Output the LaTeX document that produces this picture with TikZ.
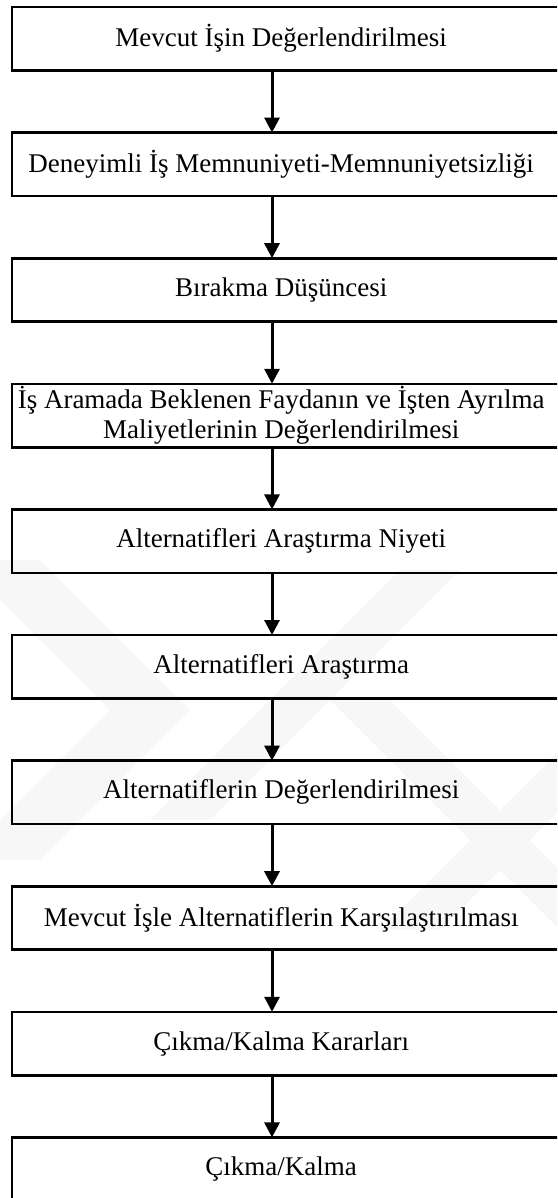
\documentclass[tikz,border=0pt]{standalone}
\usepackage{fontspec}
\setmainfont{Liberation Serif}
\usetikzlibrary{arrows.meta}
\begin{document}
\begin{tikzpicture}[x=1pt,y=-1pt,
  stepbox/.style={minimum width=538pt, minimum height=63pt, inner sep=0pt,
    align=center, anchor=north west, font=\fontsize{27}{30}\selectfont},
  boxline/.style={draw=black, line width=2.6pt},
  flow/.style={line width=3pt, -{Triangle[length=15pt,width=15pt]}},
  mark band/.style={fill=black!3, draw=none}]
\useasboundingbox (0,0) rectangle (557,1198);
\clip (0,0) rectangle (557,1198);

% faint background emblem bands
\fill[mark band] (0,560) -- (40,560) -- (190,710) -- (40,860) -- (0,860) -- (0,820) -- (110,710) -- (0,600) -- cycle;
\fill[mark band] (150,820) -- (400,570) -- (460,570) -- (210,820) -- cycle;
\fill[mark band] (330,700) -- (390,700) -- (557,867) -- (557,927) -- cycle;
\fill[mark band] (380,930) -- (557,753) -- (557,813) -- (440,930) -- cycle;

\coordinate (ax) at (272,0);

\node[stepbox] (b1)  at (12,7)      {Mevcut İşin Değerlendirilmesi};
\node[stepbox] (b2)  at (12,132.6)  {Deneyimli İş Memnuniyeti-Memnuniyetsizliği};
\node[stepbox] (b3)  at (12,258.2)  {Bırakma Düşüncesi};
\node[stepbox] (b4)  at (12,383.8)  {İş Aramada Beklenen Faydanın ve İşten Ayrılma\\Maliyetlerinin Değerlendirilmesi};
\node[stepbox] (b5)  at (12,509.4)  {Alternatifleri Araştırma Niyeti};
\node[stepbox] (b6)  at (12,635)    {Alternatifleri Araştırma};
\node[stepbox] (b7)  at (12,760.6)  {Alternatiflerin Değerlendirilmesi};
\node[stepbox] (b8)  at (12,886.2)  {Mevcut İşle Alternatiflerin Karşılaştırılması};
\node[stepbox] (b9)  at (12,1011.8) {Çıkma/Kalma Kararları};
\node[stepbox] (b10) at (12,1137.4) {Çıkma/Kalma};

% box outlines run past the right edge
\foreach \b in {b1,b2,b3,b4,b5,b6,b7,b8,b9,b10}
  \draw[boxline] (\b.north west) rectangle ([xshift=20pt]\b.south east);

\foreach \a/\b in {b1/b2,b2/b3,b3/b4,b4/b5,b5/b6,b6/b7,b7/b8,b8/b9,b9/b10}
  \draw[flow] (\a.south -| ax) -- (\b.north -| ax);
\end{tikzpicture}
\end{document}
